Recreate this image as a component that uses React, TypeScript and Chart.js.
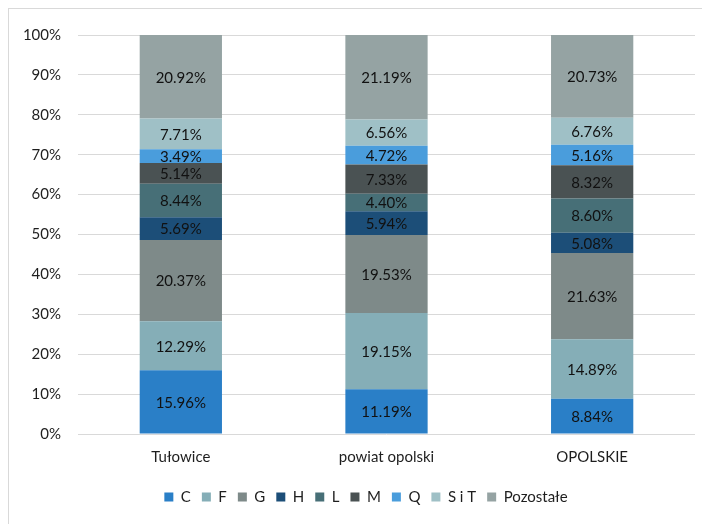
import React, { useEffect, useRef } from "react";
import { Chart, registerables } from "chart.js";

Chart.register(...registerables);

const categories = ["Tułowice", "powiat opolski", "OPOLSKIE"];
const seriesNames = ["C", "F", "G", "H", "L", "M", "Q", "S i T", "Pozostałe"];
const C = [15.96, 11.19, 8.84];
const F = [12.29, 19.15, 14.89];
const G = [20.37, 19.53, 21.63];
const H = [5.69, 5.94, 5.08];
const L = [8.44, 4.4, 8.6];
const M = [5.14, 7.33, 8.32];
const Q = [3.49, 4.72, 5.16];
const SiT = [7.71, 6.56, 6.76];
const Pozostale = [20.92, 21.19, 20.73];
const seriesValues = [C, F, G, H, L, M, Q, SiT, Pozostale];
const seriesColors = [
  "#2a7fc7",
  "#85aeb7",
  "#7e8a89",
  "#1c4e78",
  "#476f77",
  "#4a5253",
  "#4a9ddc",
  "#9fc0c6",
  "#95a3a3",
];
const yTicks = [0, 10, 20, 30, 40, 50, 60, 70, 80, 90, 100];

const FONT = "Lato, 'Open Sans', sans-serif";

const labelPlugin = {
  id: "segLabels",
  afterLayout(chart: any) {
    if (chart.legend) {
      chart.legend.left += 14;
      chart.legend.right += 14;
    }
  },
  afterDatasetsDraw(chart: any) {
    const ctx = chart.ctx;
    ctx.save();
    ctx.font = `15px ${FONT}`;
    ctx.fillStyle = "#111111";
    ctx.textAlign = "center";
    ctx.textBaseline = "middle";
    chart.data.datasets.forEach((ds: any, di: number) => {
      const meta = chart.getDatasetMeta(di);
      meta.data.forEach((el: any, i: number) => {
        const v = ds.data[i];
        const props = el.getProps(["x", "y", "base"], true);
        ctx.fillText(v.toFixed(2) + "%", props.x, (props.y + props.base) / 2 + 1);
      });
    });
    ctx.restore();
  },
};

export default function App() {
  const ref = useRef<HTMLCanvasElement>(null);
  useEffect(() => {
    document.body.style.overflow = "hidden";
    document.documentElement.style.overflow = "hidden";
    const chart = new Chart(ref.current!, {
      type: "bar",
      data: {
        labels: categories,
        datasets: seriesNames.map((name, i) => ({
          label: name,
          data: seriesValues[i],
          backgroundColor: seriesColors[i],
          borderWidth: 0,
          barPercentage: 0.4,
          categoryPercentage: 1,
        })),
      },
      options: {
        responsive: false,
        animation: false,
        layout: { padding: { top: 18, right: 28, bottom: 9.5, left: 0 } },
        plugins: {
          legend: {
            position: "bottom",
            labels: {
              boxWidth: 9,
              boxHeight: 9,
              padding: 11,
              color: "#1e1e1e",
              font: { family: FONT, size: 15 },
            },
          },
          tooltip: { enabled: false },
        },
        scales: {
          x: {
            stacked: true,
            grid: { display: false, drawTicks: false },
            border: { display: false },
            ticks: {
              padding: 14,
              color: "#1e1e1e",
              font: { family: FONT, size: 15 },
            },
            afterFit(scale: any) {
              scale.height = 44.5;
            },
          },
          y: {
            stacked: true,
            min: 0,
            max: 100,
            grid: { color: "#d9d9d9", lineWidth: 1, drawTicks: false },
            border: { display: false },
            afterBuildTicks(scale: any) {
              scale.ticks = yTicks.map((v) => ({ value: v }));
            },
            ticks: {
              padding: 17,
              color: "#1e1e1e",
              font: { family: FONT, size: 15 },
              callback: (v: any) => v + "%",
            },
            afterFit(scale: any) {
              scale.width = 69;
            },
          },
        },
      },
      plugins: [labelPlugin],
    });
    return () => chart.destroy();
  }, []);
  return (
    <div
      style={{
        width: 702,
        height: 516,
        overflow: "hidden",
        borderLeft: "1px solid #d9d9d9",
        borderTop: "1px solid #d9d9d9",
        boxSizing: "border-box",
      }}
    >
      <canvas ref={ref} width={714} height={515} style={{ display: "block" }} />
    </div>
  );
}
